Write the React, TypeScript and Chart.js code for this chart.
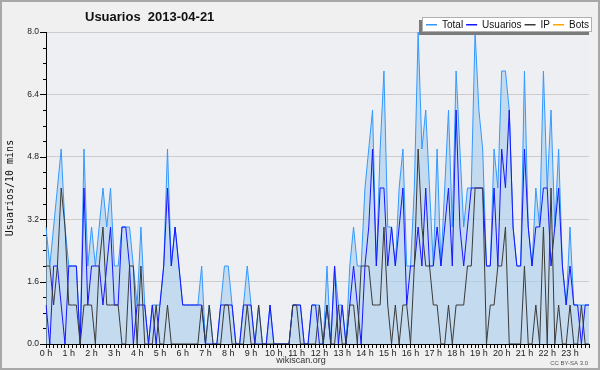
import React, { useEffect, useRef } from 'react';
import { Chart, registerables } from 'chart.js';

Chart.register(...registerables);

// ---- data ----
const hourLabels = ['0 h', '1 h', '2 h', '3 h', '4 h', '5 h', '6 h', '7 h', '8 h', '9 h', '10 h', '11 h',
  '12 h', '13 h', '14 h', '15 h', '16 h', '17 h', '18 h', '19 h', '20 h', '21 h', '22 h', '23 h'];

const totalValues = [
  3, 2, 3, 4, 5, 3, 2, 2, 2, 0,
  5, 2, 3, 2, 3, 4, 3, 4, 2, 2,
  3, 3, 3, 2, 1, 3, 1, 0, 1, 1,
  1, 2, 5, 2, 3, 2, 1, 1, 1, 1,
  1, 2, 0, 1, 0, 0, 1, 2, 2, 1,
  0, 0, 1, 2, 1, 0, 1, 0, 0, 1,
  0, 0, 0, 0, 0, 1, 1, 1, 0, 0,
  1, 1, 1, 0, 2, 0, 2, 1, 1, 0,
  2, 3, 2, 2, 4, 5, 6, 2, 5, 7,
  3, 3, 2, 4, 5, 2, 2, 4, 8, 5,
  6, 4, 2, 5, 2, 4, 6, 3, 7, 5,
  3, 4, 4, 8, 6, 5, 2, 2, 5, 4,
  7, 7, 6, 3, 2, 2, 7, 3, 2, 4,
  3, 7, 4, 6, 3, 5, 2, 1, 3, 1,
  1, 1, 1, 1,
];

const usuariosValues = [
  1, 0, 2, 2, 1, 0, 2, 2, 2, 0,
  4, 1, 2, 2, 2, 1, 2, 3, 1, 1,
  3, 3, 2, 0, 1, 1, 1, 0, 1, 0,
  1, 2, 4, 2, 3, 2, 1, 1, 1, 1,
  1, 1, 0, 0, 0, 0, 1, 1, 1, 1,
  0, 0, 1, 1, 1, 0, 0, 0, 0, 1,
  0, 0, 0, 0, 0, 1, 1, 1, 0, 0,
  1, 1, 0, 0, 1, 0, 2, 0, 1, 0,
  1, 2, 1, 0, 2, 3, 5, 2, 4, 4,
  2, 3, 2, 3, 4, 1, 2, 2, 3, 2,
  4, 2, 2, 3, 2, 3, 4, 2, 6, 3,
  2, 3, 4, 4, 4, 4, 2, 2, 4, 2,
  5, 4, 6, 3, 2, 2, 5, 3, 2, 3,
  3, 4, 4, 2, 3, 4, 2, 1, 2, 1,
  1, 0, 1, 1,
];

const ipValues = [
  2, 2, 1, 2, 4, 3, 1, 1, 1, 0,
  1, 1, 1, 0, 2, 3, 1, 1, 1, 1,
  0, 0, 2, 2, 0, 2, 0, 0, 0, 1,
  0, 0, 1, 0, 0, 0, 0, 0, 0, 0,
  0, 1, 0, 1, 0, 0, 0, 1, 1, 0,
  0, 0, 0, 1, 0, 0, 1, 0, 0, 0,
  0, 0, 0, 0, 0, 1, 1, 0, 0, 0,
  0, 0, 1, 0, 1, 0, 0, 1, 0, 0,
  1, 1, 0, 2, 2, 2, 1, 1, 1, 3,
  1, 0, 1, 0, 1, 1, 0, 2, 5, 3,
  2, 2, 1, 1, 0, 0, 1, 0, 1, 1,
  1, 2, 2, 4, 4, 4, 0, 1, 1, 2,
  2, 3, 0, 0, 0, 0, 2, 0, 0, 1,
  0, 3, 0, 4, 0, 1, 0, 0, 1, 0,
  0, 1, 0, 0,
];

const botsValues: number[] = [];

const seriesNames = ['Total', 'Usuarios', 'IP', 'Bots'];
const seriesColors = ['#3399ff', '#1515ff', '#3a3a3a', '#ffa500'];
const yTickLabels = ['0.0', '1.6', '3.2', '4.8', '6.4', '8.0'];
const chartTitle = 'Usuarios  2013-04-21';
const yAxisTitle = 'Usuarios/10 mins';
const footerSource = 'wikiscan.org';
const footerLicense = 'CC BY-SA 3.0';

const SLOTS_PER_HOUR = 6;
const categoryLabels = totalValues.map((_, i) => (i % SLOTS_PER_HOUR === 0 ? hourLabels[i / SLOTS_PER_HOUR] : ''));

const FONT = '"Liberation Sans", Arial, sans-serif';

const decorPlugin = {
  id: 'decor',
  beforeDraw(chart: any) {
    const { ctx, chartArea, width, height } = chart;
    ctx.save();
    ctx.fillStyle = '#f0f0f0';
    ctx.fillRect(0, 0, width, height);
    ctx.fillStyle = '#eeeff2';
    ctx.fillRect(chartArea.left, chartArea.top, chartArea.right - chartArea.left, chartArea.bottom - chartArea.top);
    ctx.strokeStyle = '#a8a8a8';
    ctx.lineWidth = 2;
    ctx.strokeRect(1, 1, width - 2, height - 2);
    ctx.restore();
  },
  afterDraw(chart: any) {
    const { ctx, chartArea } = chart;
    const yScale = chart.scales.y;
    ctx.save();
    // y tick marks (major & minor)
    ctx.strokeStyle = '#000';
    ctx.lineWidth = 1;
    for (let k = 0; k <= 20; k++) {
      const y = Math.round(yScale.getPixelForValue(k * 0.4)) + 0.5;
      const len = k % 4 === 0 ? 6 : 3;
      ctx.beginPath();
      ctx.moveTo(chartArea.left - len, y);
      ctx.lineTo(chartArea.left, y);
      ctx.stroke();
    }
    // title
    ctx.fillStyle = '#111';
    ctx.font = 'bold 13px ' + FONT;
    ctx.textAlign = 'left';
    ctx.textBaseline = 'alphabetic';
    ctx.fillText(chartTitle, 85, 21);

    // footer
    ctx.font = '9px ' + FONT;
    ctx.fillStyle = '#333';
    ctx.textAlign = 'center';
    ctx.textBaseline = 'middle';
    ctx.fillText(footerSource, 301, 361);
    ctx.font = '6px ' + FONT;
    ctx.fillStyle = '#555';
    ctx.textAlign = 'right';
    ctx.fillText(footerLicense, 588, 363);

    // legend
    const bx = 422, by = 17, bw = 170, bh = 15;
    ctx.fillStyle = '#7a7a7a';
    ctx.fillRect(bx - 3, by + 3, bw, bh);
    ctx.fillStyle = '#ffffff';
    ctx.fillRect(bx, by, bw, bh);
    ctx.strokeStyle = '#b0b0b0';
    ctx.lineWidth = 1;
    ctx.strokeRect(bx + 0.5, by + 0.5, bw - 1, bh - 1);
    ctx.font = '10px ' + FONT;
    ctx.textAlign = 'left';
    ctx.textBaseline = 'middle';
    let x = 426;
    const ly = by + 8;
    chart.data.datasets.forEach((ds: any, i: number) => {
      ctx.fillStyle = seriesColors[i];
      ctx.fillRect(x, ly - 1, 11, 1.5);
      ctx.fillStyle = '#111';
      ctx.fillText(ds.label, x + 16, ly);
      x += 16 + ctx.measureText(ds.label).width + 3;
    });
    ctx.restore();
  },
};

export default function App() {
  const canvasRef = useRef<HTMLCanvasElement | null>(null);

  useEffect(() => {
    const canvas = canvasRef.current;
    if (!canvas) return;
    const chart = new Chart(canvas, {
      type: 'line',
      data: {
        labels: categoryLabels,
        datasets: [
          {
            label: seriesNames[0],
            data: totalValues,
            borderColor: seriesColors[0],
            backgroundColor: 'rgba(170,205,235,0.62)',
            fill: 'origin',
            borderWidth: 1,
            pointRadius: 0,
            tension: 0,
            order: 4,
          },
          {
            label: seriesNames[1],
            data: usuariosValues,
            borderColor: seriesColors[1],
            fill: false,
            borderWidth: 1,
            pointRadius: 0,
            tension: 0,
            order: 3,
          },
          {
            label: seriesNames[2],
            data: ipValues,
            borderColor: seriesColors[2],
            fill: false,
            borderWidth: 1,
            pointRadius: 0,
            tension: 0,
            order: 2,
          },
          {
            label: seriesNames[3],
            data: botsValues,
            borderColor: seriesColors[3],
            fill: false,
            borderWidth: 1,
            pointRadius: 0,
            tension: 0,
            order: 1,
          },
        ],
      },
      options: {
        responsive: false,
        animation: false,
        devicePixelRatio: 1,
        layout: { padding: { top: 32, right: 11, left: 0, bottom: 0 } },
        plugins: {
          legend: { display: false },
          title: { display: false },
          tooltip: { enabled: false },
        },
        scales: {
          x: {
            type: 'category',
            offset: false,
            afterFit: (scale: any) => { scale.height = 26; },
            grid: {
              display: true,
              drawOnChartArea: false,
              drawTicks: true,
              tickLength: 4,
              tickColor: '#000',
              color: '#000',
            },
            border: { display: true, color: '#000', width: 1 },
            ticks: {
              autoSkip: false,
              maxRotation: 0,
              minRotation: 0,
              padding: 0,
              color: '#222',
              font: { family: FONT, size: 9 },
            },
          },
          y: {
            type: 'linear',
            min: 0,
            max: 8,
            afterFit: (scale: any) => { scale.width = 46; },
            afterBuildTicks: (scale: any) => {
              scale.ticks = Array.from({ length: 21 }, (_, k) => ({ value: k * 0.4 }));
            },
            grid: {
              drawTicks: false,
              color: (c: any) => (c.index % 4 === 0 ? '#cccccc' : 'rgba(0,0,0,0)'),
            },
            border: { display: true, color: '#000', width: 1 },
            ticks: {
              padding: 7,
              autoSkip: false,
              color: '#222',
              font: { family: FONT, size: 8.5 },
              callback: (_v: any, index: number) => (index % 4 === 0 ? yTickLabels[index / 4] : ''),
            },
            title: {
              display: true,
              text: yAxisTitle,
              color: '#111',
              font: { family: '"DejaVu Sans Mono", monospace', size: 10 },
              padding: { top: 4, bottom: 0 },
            },
          },
        },
      },
      plugins: [decorPlugin],
    } as any);
    return () => chart.destroy();
  }, []);

  return (
    <div style={{ position: 'fixed', left: 0, top: 0, width: 600, height: 370 }}>
      <canvas ref={canvasRef} width={600} height={370} style={{ display: 'block' }} />
    </div>
  );
}
